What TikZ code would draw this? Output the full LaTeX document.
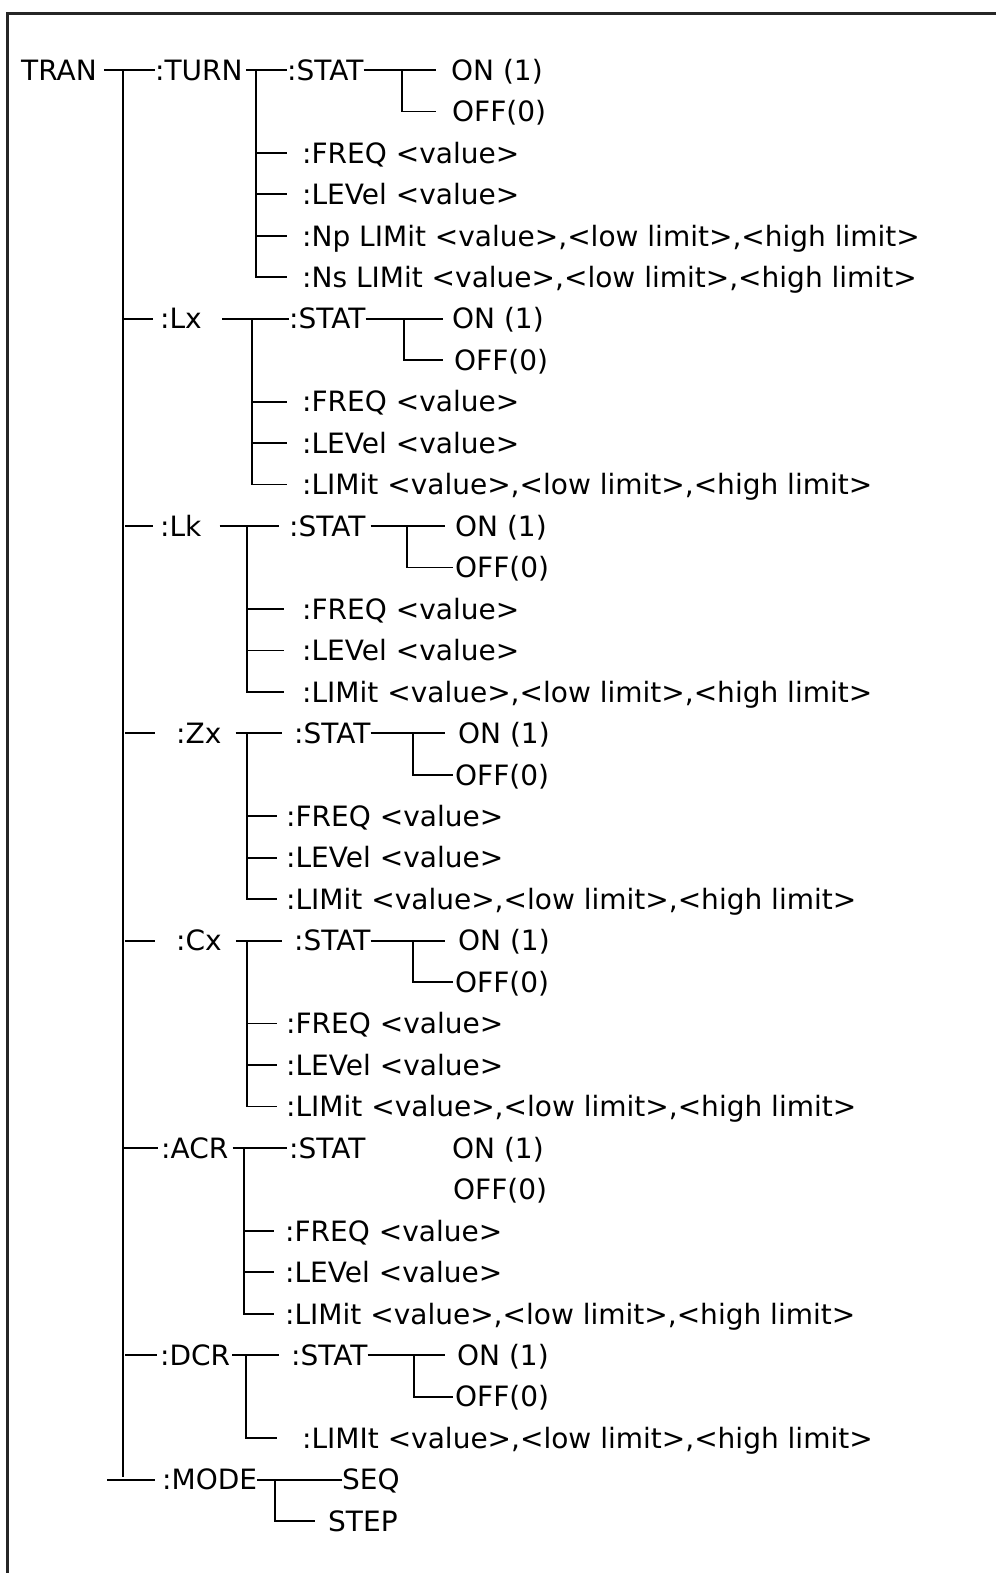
\documentclass[tikz,border=0pt]{standalone}
\usepackage{fontspec}
\usepackage{tikz}
\newfontfamily\cmdfont{DejaVu Sans}

\tikzset{
  cmd/.style={anchor=west, inner sep=0pt, text height=20.4pt, text depth=0pt,
    font=\cmdfont\fontsize{28}{34}\selectfont},
  wire/.style={line width=1.8pt, black},
}

\begin{document}
\begin{tikzpicture}[x=1pt, y=-41.46pt]
  \useasboundingbox (0,-1.688) rectangle (996,36.252);
  % frame (only top and left edges are in the picture)
  \draw[line width=2.4pt, black!85] (996,-1.363) -- (7.5,-1.363) -- (7.5,36.252);

  % ---- root and trunk ----
  \node[cmd] (tran) at (21,0) {TRAN};
  \coordinate (trunk) at (123,0);

  % ---- :TURN ----
  \node[cmd] (turn)     at (155,0) {:TURN};
  \node[cmd] (turnstat) at (287,0) {:STAT};
  \node[cmd] (turnon)   at (451,0) {ON (1)};
  \node[cmd] (turnoff)  at (452,1) {OFF(0)};
  \node[cmd] (turnfreq) at (302,2) {:FREQ <value>};
  \node[cmd] (turnlev)  at (302,3) {:LEVel <value>};
  \node[cmd] (turnnp)   at (302,4) {:Np LIMit <value>,<low limit>,<high limit>};
  \node[cmd] (turnns)   at (302,5) {:Ns LIMit <value>,<low limit>,<high limit>};
  \coordinate (turnj) at (256,0);
  \coordinate (turnk) at (402,0);
  \draw[wire, shorten <=7pt] (tran.east) -- (turn.west);
  \draw[wire, shorten <=3pt] (turn.east) -- (turnstat.west);
  \draw[wire, shorten >=15pt] (turnstat.east) -- (turnon.west);
  \draw[wire, shorten >=16pt] (turnk) |- (turnoff.west);
  \draw[wire, shorten >=15pt] (turnj) |- (turnns.west);
  \draw[wire, shorten >=15pt] (turnj |- turnfreq) -- (turnfreq.west);
  \draw[wire, shorten >=15pt] (turnj |- turnlev) -- (turnlev.west);
  \draw[wire, shorten >=15pt] (turnj |- turnnp) -- (turnnp.west);

  % ---- :Lx ----
  \node[cmd] (lx)     at (160,6) {:Lx};
  \node[cmd] (lxstat) at (289,6) {:STAT};
  \node[cmd] (lxon)   at (452,6) {ON (1)};
  \node[cmd] (lxoff)  at (454,7) {OFF(0)};
  \node[cmd] (lxfreq) at (302,8) {:FREQ <value>};
  \node[cmd] (lxlev)  at (302,9) {:LEVel <value>};
  \node[cmd] (lxlim)  at (302,10) {:LIMit <value>,<low limit>,<high limit>};
  \coordinate (lxj) at (252,6);
  \coordinate (lxk) at (404,6);
  \draw[wire, shorten >=7pt] (trunk |- lx) -- (lx.west);
  \draw[wire, shorten <=20pt] (lx.east) -- (lxstat.west);
  \draw[wire, shorten >=9pt] (lxstat.east) -- (lxon.west);
  \draw[wire, shorten >=11pt] (lxk) |- (lxoff.west);
  \draw[wire, shorten >=15pt] (lxj) |- (lxlim.west);
  \draw[wire, shorten >=15pt] (lxj |- lxfreq) -- (lxfreq.west);
  \draw[wire, shorten >=15pt] (lxj |- lxlev) -- (lxlev.west);

  % ---- :Lk ----
  \node[cmd] (lk)     at (160,11) {:Lk};
  \node[cmd] (lkstat) at (289,11) {:STAT};
  \node[cmd] (lkon)   at (455,11) {ON (1)};
  \node[cmd] (lkoff)  at (455,12) {OFF(0)};
  \node[cmd] (lkfreq) at (302,13) {:FREQ <value>};
  \node[cmd] (lklev)  at (302,14) {:LEVel <value>};
  \node[cmd] (lklim)  at (302,15) {:LIMit <value>,<low limit>,<high limit>};
  \coordinate (lkj) at (247,11);
  \coordinate (lkk) at (407,11);
  \draw[wire, shorten <=2pt, shorten >=7pt] (trunk |- lk) -- (lk.west);
  \draw[wire, shorten <=18pt, shorten >=10pt] (lk.east) -- (lkstat.west);
  \draw[wire, shorten <=5pt, shorten >=10pt] (lkstat.east) -- (lkon.west);
  \draw[wire, shorten >=2pt] (lkk) |- (lkoff.west);
  \draw[wire, shorten >=18pt] (lkj) |- (lklim.west);
  \draw[wire, shorten >=18pt] (lkj |- lkfreq) -- (lkfreq.west);
  \draw[wire, shorten >=18pt] (lkj |- lklev) -- (lklev.west);

  % ---- :Zx ----
  \node[cmd] (zx)     at (176,16) {:Zx};
  \node[cmd] (zxstat) at (294,16) {:STAT};
  \node[cmd] (zxon)   at (458,16) {ON (1)};
  \node[cmd] (zxoff)  at (455,17) {OFF(0)};
  \node[cmd] (zxfreq) at (286,18) {:FREQ <value>};
  \node[cmd] (zxlev)  at (286,19) {:LEVel <value>};
  \node[cmd] (zxlim)  at (286,20) {:LIMit <value>,<low limit>,<high limit>};
  \coordinate (zxj) at (247,16);
  \coordinate (zxk) at (413,16);
  \draw[wire, shorten <=2pt, shorten >=21pt] (trunk |- zx) -- (zx.west);
  \draw[wire, shorten <=14pt, shorten >=12pt] (zx.east) -- (zxstat.west);
  \draw[wire, shorten >=13pt] (zxstat.east) -- (zxon.west);
  \draw[wire, shorten >=2pt] (zxk) |- (zxoff.west);
  \draw[wire, shorten >=9pt] (zxj) |- (zxlim.west);
  \draw[wire, shorten >=9pt] (zxj |- zxfreq) -- (zxfreq.west);
  \draw[wire, shorten >=9pt] (zxj |- zxlev) -- (zxlev.west);

  % ---- :Cx ----
  \node[cmd] (cx)     at (176,21) {:Cx};
  \node[cmd] (cxstat) at (294,21) {:STAT};
  \node[cmd] (cxon)   at (458,21) {ON (1)};
  \node[cmd] (cxoff)  at (455,22) {OFF(0)};
  \node[cmd] (cxfreq) at (286,23) {:FREQ <value>};
  \node[cmd] (cxlev)  at (286,24) {:LEVel <value>};
  \node[cmd] (cxlim)  at (286,25) {:LIMit <value>,<low limit>,<high limit>};
  \coordinate (cxj) at (247,21);
  \coordinate (cxk) at (413,21);
  \draw[wire, shorten <=2pt, shorten >=21pt] (trunk |- cx) -- (cx.west);
  \draw[wire, shorten <=14pt, shorten >=12pt] (cx.east) -- (cxstat.west);
  \draw[wire, shorten >=13pt] (cxstat.east) -- (cxon.west);
  \draw[wire, shorten >=2pt] (cxk) |- (cxoff.west);
  \draw[wire, shorten >=9pt] (cxj) |- (cxlim.west);
  \draw[wire, shorten >=9pt] (cxj |- cxfreq) -- (cxfreq.west);
  \draw[wire, shorten >=9pt] (cxj |- cxlev) -- (cxlev.west);

  % ---- :ACR (no STAT connectors) ----
  \node[cmd] (acr)     at (161,26) {:ACR};
  \node[cmd] (acrstat) at (289,26) {:STAT};
  \node[cmd] (acron)   at (452,26) {ON (1)};
  \node[cmd] (acroff)  at (453,27) {OFF(0)};
  \node[cmd] (acrfreq) at (285,28) {:FREQ <value>};
  \node[cmd] (acrlev)  at (285,29) {:LEVel <value>};
  \node[cmd] (acrlim)  at (285,30) {:LIMit <value>,<low limit>,<high limit>};
  \coordinate (acrj) at (244,26);
  \draw[wire, shorten >=3pt] (trunk |- acr) -- (acr.west);
  \draw[wire, shorten <=4pt, shorten >=2pt] (acr.east) -- (acrstat.west);
  \draw[wire, shorten >=11pt] (acrj) |- (acrlim.west);
  \draw[wire, shorten >=11pt] (acrj |- acrfreq) -- (acrfreq.west);
  \draw[wire, shorten >=11pt] (acrj |- acrlev) -- (acrlev.west);

  % ---- :DCR ----
  \node[cmd] (dcr)     at (160,31) {:DCR};
  \node[cmd] (dcrstat) at (291,31) {:STAT};
  \node[cmd] (dcron)   at (457,31) {ON (1)};
  \node[cmd] (dcroff)  at (455,32) {OFF(0)};
  \node[cmd] (dcrlim)  at (302,33) {:LIMIt <value>,<low limit>,<high limit>};
  \coordinate (dcrj) at (246,31);
  \coordinate (dcrk) at (414,31);
  \draw[wire, shorten <=2pt, shorten >=3pt] (trunk |- dcr) -- (dcr.west);
  \draw[wire, shorten <=2pt, shorten >=12pt] (dcr.east) -- (dcrstat.west);
  \draw[wire, shorten >=12pt] (dcrstat.east) -- (dcron.west);
  \draw[wire, shorten >=2pt] (dcrk) |- (dcroff.west);
  \draw[wire, shorten >=25pt] (dcrj) |- (dcrlim.west);

  % ---- :MODE ----
  \node[cmd] (mode) at (162,34) {:MODE};
  \node[cmd] (seq)  at (342,34) {SEQ};
  \node[cmd] (stp)  at (328,35) {STEP};
  \coordinate (model) at (107,34);
  \coordinate (modej) at (275,34);
  \draw[wire, shorten >=7pt] (model) -- (mode.west);
  \draw[wire] (mode.east) -- (seq.west);
  \draw[wire, shorten >=13pt] (modej) |- (stp.west);

  % trunk line
  \draw[wire] (trunk) -- ([yshift=3pt]trunk |- mode);
\end{tikzpicture}
\end{document}
